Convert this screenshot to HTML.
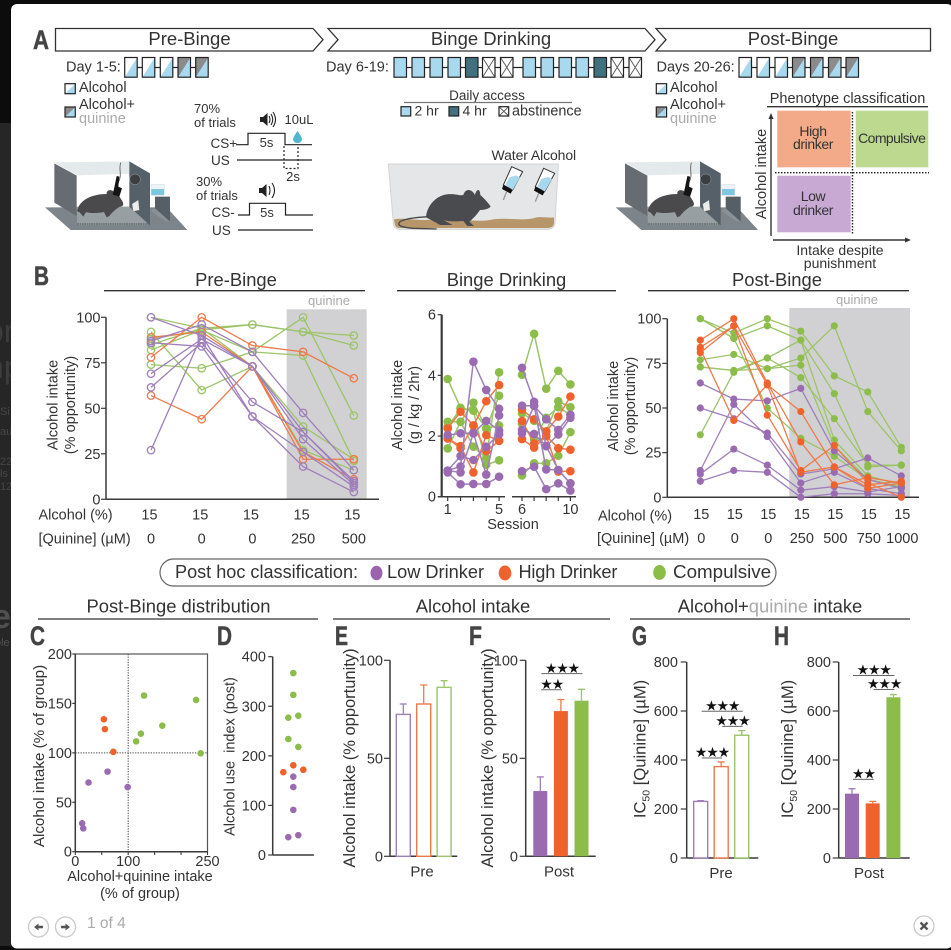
<!DOCTYPE html>
<html lang="en">
<head>
<meta charset="utf-8">
<title>Binge drinking figure</title>
<style>
html,body{margin:0;padding:0;background:#222;}
body{width:951px;height:950px;overflow:hidden;}
svg{display:block;}
text{font-family:"Liberation Sans",sans-serif;fill:#333;font-size:14.5px;}
.ttl{font-size:18.5px;text-anchor:middle;}
.sec{font-size:18.4px;text-anchor:middle;}
.ltr{font-family:"Liberation Sans Narrow","Liberation Sans",sans-serif;font-weight:700;font-size:27px;fill:#444;stroke:#444;stroke-width:.5px;}
.mid{text-anchor:middle;}
.sm{font-size:13px;}
.gr{fill:#aaa;}
.rule{stroke:#333;stroke-width:1.3;}
.tr{fill:none;stroke:#222;stroke-width:1.2;}
</style>
</head>
<body>
<svg id="fig" xmlns="http://www.w3.org/2000/svg" width="951" height="950" viewBox="0 0 951 950">
  <rect x="0" y="0" width="951" height="950" fill="#262626"/>
  <rect x="0" y="0" width="951" height="123" fill="#0c0c0c"/>
  <g style="opacity:.9">
    <text x="-14" y="342" style="font-size:32px;fill:#3f3f3f">or</text>
    <text x="-14" y="378" style="font-size:32px;fill:#3f3f3f">np</text>
    <text x="0" y="415" style="font-size:11px;fill:#4a4a4a">Si</text>
    <text x="0" y="435" style="font-size:11px;fill:#4a4a4a">au</text>
    <text x="0" y="465" style="font-size:11px;fill:#4a4a4a">22</text>
    <text x="0" y="477" style="font-size:11px;fill:#4a4a4a">ls</text>
    <text x="0" y="490" style="font-size:11px;fill:#4a4a4a">12</text>
    <text x="-8" y="628" style="font-size:34px;font-weight:700;fill:#555">e</text>
    <text x="-5" y="646" style="font-size:11px;fill:#555">ole</text>
  </g>
  <rect x="0" y="946" width="951" height="4" fill="#0c0c0c"/>
  <rect x="11" y="4" width="942" height="944.5" rx="6" fill="#ffffff"/>

  <!-- Panel A headers -->
  <text class="ltr" x="33" y="49" textLength="16" lengthAdjust="spacingAndGlyphs">A</text>
  <g fill="#fff" stroke="#333" stroke-width="1.3">
    <polygon points="55.5,28.5 313,28.5 323,39.7 313,51 55.5,51"/>
    <polygon points="328,28.5 645,28.5 655,39.7 645,51 328,51 338,39.7"/>
    <polygon points="656,28.5 930.5,28.5 930.5,51 656,51 666,39.7"/>
  </g>
  <text class="ttl" x="189.5" y="45">Pre-Binge</text>
  <text class="ttl" x="491" y="45">Binge Drinking</text>
  <text class="ttl" x="793" y="45">Post-Binge</text>

  <text x="66" y="71.5">Day 1-5:</text>
  <text x="326" y="71.5">Day 6-19:</text>
  <text x="656.5" y="71.5">Days 20-26:</text>
  <g id="boxes"></g>

  <text x="79" y="92">Alcohol</text>
  <text x="79" y="109">Alcohol+</text>
  <text class="gr" x="79" y="123">quinine</text>
  <text x="670" y="92">Alcohol</text>
  <text x="670" y="109">Alcohol+</text>
  <text class="gr" x="670" y="123">quinine</text>

  <text class="mid" x="487" y="100" style="font-size:13.5px">Daily access</text>
  <line class="rule" x1="404" y1="102.5" x2="572" y2="102.5" style="stroke:#777"/>
  <text x="414.5" y="115.5" style="font-size:14px">2 hr</text>
  <text x="462.5" y="115.5" style="font-size:14px">4 hr</text>
  <text x="512" y="115.5" style="font-size:14.4px">abstinence</text>

  <!-- Trial timing -->
  <g>
    <text class="sm" x="194" y="113">70%</text>
    <text class="sm" x="194" y="127">of trials</text>
    <text class="sm" x="284.5" y="124">10uL</text>
    <text x="210.5" y="148" style="font-size:13.5px">CS+</text>
    <text x="211" y="165" style="font-size:13.5px">US</text>
    <text class="mid sm" x="266.5" y="147">5s</text>
    <text class="mid sm" x="293" y="181">2s</text>
    <text class="sm" x="196" y="186">30%</text>
    <text class="sm" x="196" y="200">of trials</text>
    <text x="211.5" y="217" style="font-size:13.5px">CS-</text>
    <text class="mid sm" x="267" y="217">5s</text>
    <text x="212" y="235" style="font-size:13.5px">US</text>
    <polyline class="tr" points="236,144.7 248,144.7 248,133.3 285,133.3 285,144.7 312,144.7"/>
    <line class="tr" x1="237" y1="160" x2="312" y2="160"/>
    <polyline class="tr" points="284,146 284,168.5 298,168.5 298,146" style="stroke-dasharray:2 2"/>
    <polyline class="tr" points="238,215 249.5,215 249.5,203.3 285.5,203.3 285.5,215 313,215"/>
    <line class="tr" x1="238" y1="230" x2="313" y2="230"/>
    <path d="M297.5,131 C294,136 293,138 293,139.5 A4.6,4.6 0 0 0 302,139.5 C302,138 301,136 297.5,131Z" fill="#4fb6d0"/>
    <g fill="#222">
      <polygon points="260,117 263,117 267.5,113 267.5,126 263,122 260,122"/>
      <polygon points="259,188 262,188 266.5,184 266.5,197 262,193 259,193"/>
    </g>
    <g fill="none" stroke="#222" stroke-width="1.1">
      <path d="M269,116 Q271,119.5 269,123"/><path d="M271,114 Q274.5,119.5 271,125"/><path d="M273,112 Q278,119.5 273,127"/>
      <path d="M269,186 Q271,190.5 269,195"/><path d="M272,183 Q277,190.5 272,198"/>
    </g>
  </g>

  <!-- Operant chamber (defined once, reused) -->
  <defs>
    <g id="chamber">
      <polygon points="135,622 212,690 562,690 500,622" fill="#7d858b"/>
      <polygon points="163,487 388,484 450,520 230,526" fill="#e4eaec"/>
      <polygon points="163,490 230,527 230,648 163,608" fill="#666c71"/>
      <polygon points="230,620 440,620 445,675 232,675" fill="#989fa3"/>
      <polygon points="388,484 450,520 450,676 388,620" fill="#566069"/>
      <circle cx="405" cy="538" r="16" fill="#3c3f42" stroke="#cfcfcf" stroke-width="1"/>
      <polygon points="396,612 415,600 418,630 400,634" fill="#eee" stroke="#888" stroke-width="1"/>
      <polygon points="465,590 510,590 510,665 465,625" fill="#565f66"/>
      <polygon points="465,625 510,665 498,665 452,632" fill="#8b9297"/>
      <rect x="453" y="553" width="40" height="33" rx="2" fill="#eef4f6" stroke="#c6ccd0"/>
      <rect x="454" y="567" width="38" height="18" fill="#7ec7e0"/>
      <path d="M232,630 C240,600 275,582 320,582 C318,572 330,566 340,574 C350,570 355,585 365,600 C372,610 372,620 360,620 C345,628 335,640 328,648 L320,652 L312,636 C290,640 270,640 258,636 L250,650 L238,636 C232,636 230,632 232,630Z" fill="#4a4a4c"/>
      <path d="M362,488 C355,510 368,525 354,550" fill="none" stroke="#555" stroke-width="2.5"/>
      <path d="M350,528 L358,530 L355,560 L366,565 L358,590 L338,584 L343,562Z" fill="#141414"/>
      <line x1="232" y1="672" x2="445" y2="672" stroke="#333" stroke-width="2" stroke-dasharray="5 2"/>
    </g>
  </defs>
  <g transform="scale(.33333)"><use href="#chamber"/></g>
  <g transform="translate(570.7,0) scale(.33333)"><use href="#chamber"/></g>

  <!-- Home cage -->
  <g transform="translate(380,140) scale(.33333)">
    <path d="M25,72 L535,72 L525,250 Q522,268 500,268 L60,268 Q42,268 40,250Z" fill="#e5e6e7" stroke="#d4d4d4" stroke-width="3"/>
    <path d="M42,238 C80,232 110,245 160,238 C220,232 290,250 340,238 C390,232 430,245 470,232 C490,230 510,235 522,232 L522,250 Q520,264 500,264 L60,264 Q45,264 44,250Z" fill="#b7966a"/>
    <path d="M145,230 C110,232 75,235 60,245 C50,255 60,262 100,265 L170,267" fill="none" stroke="#47484a" stroke-width="4"/>
    <path d="M138,232 C140,200 165,168 200,163 C225,160 240,168 250,165 C255,145 275,145 285,165 C288,148 300,142 301,165 C315,178 328,192 332,200 C325,208 310,210 300,210 C290,225 275,240 268,245 L282,258 L262,258 L250,243 C230,245 205,245 190,240 L218,255 L180,255 C165,245 150,238 138,232Z" fill="#4a4b4e"/>
    <g id="bottle">
      <polygon points="395,80 428,95 398,150 370,135" fill="#fff" stroke="#333" stroke-width="3"/>
      <polygon points="408,106 420,112 398,150 376,134 388,112" fill="#a9d8ee"/>
      <polygon points="370,135 398,150 392,161 366,147" fill="#111"/>
      <line x1="380" y1="155" x2="370" y2="180" stroke="#999" stroke-width="4"/>
    </g>
    <use href="#bottle" transform="translate(96,5)"/>
  </g>
  <text x="491.5" y="160" style="font-size:14px;letter-spacing:-.1px">Water Alcohol</text>

  <!-- Phenotype quadrant -->
  <text class="mid" x="847.5" y="103" style="font-size:14.5px">Phenotype classification</text>
  <line class="rule" x1="767" y1="106.7" x2="928" y2="106.7"/>
  <rect x="777.3" y="110.7" width="73.4" height="56.6" fill="#f2aa88"/>
  <rect x="855.7" y="110.7" width="72.6" height="56.6" fill="#bcd98f"/>
  <rect x="777.3" y="175.7" width="73.4" height="56.6" fill="#c8a9d4"/>
  <line x1="852.5" y1="112" x2="852.5" y2="235" stroke="#222" stroke-width="1.4" stroke-dasharray="1.5 1.5"/>
  <line x1="775" y1="172.7" x2="929" y2="172.7" stroke="#222" stroke-width="1.4" stroke-dasharray="1.5 1.5"/>
  <line x1="771" y1="236" x2="771" y2="118" stroke="#333" stroke-width="1.4"/>
  <polygon points="771,113 768.5,119 773.5,119" fill="#333"/>
  <line x1="773" y1="240" x2="906" y2="240" stroke="#333" stroke-width="1.4"/>
  <polygon points="911,240 905,237.5 905,242.5" fill="#333"/>
  <text class="mid" transform="translate(766,174) rotate(-90)">Alcohol intake</text>
  <text class="mid" x="840" y="255" style="font-size:14px">Intake despite</text>
  <text class="mid" x="840" y="268" style="font-size:14px">punishment</text>
  <g style="letter-spacing:-.4px">
    <text class="mid" x="813" y="136" style="font-size:14px;letter-spacing:-.4px">High</text>
    <text class="mid" x="813" y="149" style="font-size:14px;letter-spacing:-.4px">drinker</text>
    <text class="mid" x="891.7" y="143" style="font-size:14px;letter-spacing:-.6px">Compulsive</text>
    <text class="mid" x="813" y="201" style="font-size:14px;letter-spacing:-.4px">Low</text>
    <text class="mid" x="813" y="215" style="font-size:14px;letter-spacing:-.4px">drinker</text>
  </g>

  <!-- Panel B static -->
  <text class="ltr" x="34" y="285" textLength="15" lengthAdjust="spacingAndGlyphs">B</text>
  <text class="sec" x="236" y="286">Pre-Binge</text>
  <text class="sec" x="506.5" y="286">Binge Drinking</text>
  <text class="sec" x="777" y="286">Post-Binge</text>
  <line class="rule" x1="104" y1="290.7" x2="365" y2="290.7"/>
  <line class="rule" x1="397" y1="290.7" x2="616" y2="290.7"/>
  <line class="rule" x1="648" y1="290.7" x2="909" y2="290.7"/>
  <rect x="286.7" y="309.3" width="80" height="190" fill="#d1d1d3"/>
  <rect x="789.3" y="308" width="120.7" height="189.3" fill="#d1d1d3"/>
  <text class="mid sm gr" x="329" y="305">quinine</text>
  <text class="mid sm gr" x="857" y="304">quinine</text>
  <g id="bPre"></g>
  <g id="bBinge"></g>
  <g id="bPost"></g>
  <text x="38.5" y="519.5">Alcohol (%)</text>
  <text x="38.5" y="543.5">[Quinine] (µM)</text>
  <text x="598" y="520.5">Alcohol (%)</text>
  <text x="597" y="543">[Quinine] (µM)</text>
  <text class="mid" transform="translate(57.5,405) rotate(-90)">Alcohol intake</text>
  <text class="mid" transform="translate(75,405) rotate(-90)">(% opportunity)</text>
  <text class="mid" transform="translate(402,405) rotate(-90)">Alcohol intake</text>
  <text class="mid" transform="translate(419,405) rotate(-90)">(g / kg / 2hr)</text>
  <text class="mid" x="513" y="529">Session</text>
  <text class="mid" transform="translate(618,406) rotate(-90)">Alcohol intake</text>
  <text class="mid" transform="translate(635,406) rotate(-90)">(% opportunity)</text>

  <!-- Classification legend -->
  <rect x="160" y="559" width="616" height="27" rx="13.5" fill="#fff" stroke="#666" stroke-width="1.2"/>
  <text x="175" y="578" style="font-size:18.1px">Post hoc classification:</text>
  <ellipse cx="376.5" cy="573" rx="6" ry="7.3" fill="#9b65ad"/>
  <text x="387" y="578" style="font-size:18.2px">Low Drinker</text>
  <ellipse cx="505" cy="573" rx="6.3" ry="7.5" fill="#f0622c"/>
  <text x="518.5" y="578" style="font-size:18.2px;letter-spacing:-.2px">High Drinker</text>
  <ellipse cx="659.5" cy="572.5" rx="6.3" ry="7.5" fill="#8bbd47"/>
  <text x="673" y="578" style="font-size:18.8px">Compulsive</text>

  <!-- Row three titles -->
  <text class="sec" x="178.5" y="612.5">Post-Binge distribution</text>
  <text class="sec" x="473" y="612.5">Alcohol intake</text>
  <text class="sec" x="770" y="612.5">Alcohol+<tspan class="gr">quinine</tspan> intake</text>
  <line class="rule" x1="38" y1="619" x2="318" y2="619"/>
  <line class="rule" x1="333" y1="619" x2="610" y2="619"/>
  <line class="rule" x1="630" y1="619" x2="910" y2="619"/>
  <text class="ltr" x="30" y="645" textLength="15" lengthAdjust="spacingAndGlyphs">C</text>
  <text class="ltr" x="217" y="645" textLength="15" lengthAdjust="spacingAndGlyphs">D</text>
  <text class="ltr" x="335" y="645" textLength="13" lengthAdjust="spacingAndGlyphs">E</text>
  <text class="ltr" x="469" y="645" textLength="13" lengthAdjust="spacingAndGlyphs">F</text>
  <text class="ltr" x="632" y="645" textLength="15" lengthAdjust="spacingAndGlyphs">G</text>
  <text class="ltr" x="774" y="645" textLength="15" lengthAdjust="spacingAndGlyphs">H</text>

  <g id="cChart"></g>
  <g id="dChart"></g>
  <g id="barCharts"></g>

  <text class="mid" transform="translate(44,756) rotate(-90)" style="font-size:15.2px">Alcohol intake (% of group)</text>
  <text class="mid" x="140" y="881">Alcohol+quinine intake</text>
  <text class="mid" x="140" y="898">(% of group)</text>
  <text class="mid" transform="translate(234.5,756.5) rotate(-90)">Alcohol use&#160; index (post)</text>

  <!-- Viewer controls -->
  <g>
    <circle cx="38.5" cy="927" r="10" fill="#fff" stroke="#c8c8c8" stroke-width="1.3"/>
    <polygon points="34,927 38.5,923.5 38.5,925.7 43,925.7 43,928.3 38.5,928.3 38.5,930.5" fill="#555"/>
  </g>
  <g>
    <circle cx="65.5" cy="927" r="10" fill="#fff" stroke="#c8c8c8" stroke-width="1.3"/>
    <polygon points="70,927 65.5,923.5 65.5,925.7 61,925.7 61,928.3 65.5,928.3 65.5,930.5" fill="#555"/>
  </g>
  <text x="87" y="928" style="font-size:15.5px;fill:#aaa">1 of 4</text>
  <g>
    <circle cx="924" cy="926" r="10" fill="#fff" stroke="#c8c8c8" stroke-width="1.3"/>
    <path d="M920.5,922.5 L927.5,929.5 M927.5,922.5 L920.5,929.5" stroke="#555" stroke-width="2.3"/>
  </g>
</svg>

<script>
// ---------- chart data ----------
const doseLabelsPre = ['0','0','0','250','500'];
const doseLabelsPost = ['0','0','0','250','500','750','1000'];
const alcoholPct = '15';
const intakeTicks = [0,25,50,75,100];

const preLow = [
  [100,90,73,37,9],
  [87,96,81,47.5,16],
  [86,84,45.5,18,4],
  [69,88,73,33,8],
  [61.5,86,53.5,37,10],
  [27,90,45.5,26,7]
];
const preHigh = [
  [78,100,84.5,81,66.5],
  [89,92,73,22,22],
  [57,44,73,26,11]
];
const preComp = [
  [100,94,96,92,90],
  [82,93,96,92,84.5],
  [74,72,81,100,46],
  [92,60,73,40,22],
  [88,93,81,79,21],
  [85,94,73,27,16]
];

const sessionTicksA = ['1','','','','5'];
const sessionTicksB = ['6','','','','10'];
const bingeTicks = [0,2,4,6];
const bingeLow = [
  [2.03,2.09,2.09,2.5,2.18, 3.0,3.0,2.55,2.2,2.7],
  [0.86,1.34,1.21,1.65,2.06, 2.2,2.07,1.67,0.88,0.44],
  [0.86,1.0,4.45,3.52,2.9, 4.25,3.13,1.67,2.05,2.6],
  [0.8,0.41,0.42,0.42,0.66, 0.84,0.99,0.25,0.44,0.2],
  [0.86,0.8,2.09,0.73,2.68, 2.09,3.0,0.9,0.88,0.44]
];
const bingeHigh = [
  [2.25,2.8,2.35,3.15,3.68, 2.87,2.55,2.15,2.64,3.3],
  [1.92,1.67,0.8,2.03,1.84, 2.5,1.75,2.0,1.6,1.55],
  [1.92,1.6,2.35,1.5,1.84, 1.9,1.62,2.0,0.83,0.84]
];
const bingeComp = [
  [3.88,2.93,2.84,1.05,1.2, 4.02,5.37,3.56,4.15,3.7],
  [2.47,2.47,3.1,2.25,3.33, 2.75,2.5,2.15,3.15,2.95],
  [1.59,2.47,1.65,1.27,4.1, 2.4,1.9,2.6,2.95,2.7],
  [2.3,2.9,2.84,2.25,2.35, 0.7,1.1,1.1,1.35,2.13]
];

const postLow = [
  [64,55,54,61,26,10,5],
  [50,44,36,13,16,22,12],
  [15,52,34,8,14,5,2],
  [13,27,18,4,6,3,6],
  [9,15,14,0,2,2,1]
];
const postHigh = [
  [88,100,64,31,7,11,8],
  [84,96,46,15,29,8,0],
  [83,43,63,48,17,5,8],
  [81,96,63,14,17,7,9]
];
const postComp = [
  [100,92,100,93,68,59,28],
  [100,89,96,88,32,12,7],
  [77,80,72,78,96,48,26],
  [73,71,78,88,58,17,18],
  [35,70,78,67,44,18,18],
  [73,71,72,74,29,10,6],
  [100,89,50,33,23,10,5]
];

const scatterLowX = [61,25,99,13,15];
const scatterLowY = [81,70,65.4,28.7,23.6];
const scatterHighX = [54,56,72];
const scatterHighY = [134,124,101];
const scatterCompX = [130,228.5,164.5,124,115,237];
const scatterCompY = [158,153.5,127.5,119.4,111.6,99.5];
const scatterXTicks = [0,50,100,150,200,250];
const scatterXLabels = ['0','','100','','','250'];
const scatterYTicks = [0,50,100,150,200];

const useIndexLow = [158,137,91,36,40];
const useIndexLowSlot = [0,0,0,-1,1];
const useIndexHigh = [181,167,172];
const useIndexHighSlot = [0,-2,2];
const useIndexComp = [367,323,277,281,234,218];
const useIndexCompSlot = [0,0,-1,1,-1,1];
const useIndexTicks = [0,100,200,300,400];

const pctBarTicks = [0,50,100];
const icBarTicks = [0,200,400,600,800];
const ePre = [72.4,77.7,86.2];
const ePreErr = [77.7,87.4,89.6];
const fPost = [33.3,74.1,79.4];
const fPostErr = [40.5,80,85.2];
const gPre = [231,373,501];
const gPreErr = [234,392,520];
const hPost = [262.6,223,656];
const hPostErr = [283,231,667];
const fSig = [[0,2,93.2,'★★★'],[0,1,85,'★★']];
const gSig = [[0,2,599,'★★★'],[1,2,537,'★★★'],[0,1,408,'★★★']];
const hSig = [[0,2,745,'★★★'],[1,2,688,'★★★'],[0,1,321,'★★']];

// ---------- helpers ----------
const NS = 'http://www.w3.org/2000/svg';
const PURPLE='#9b6bb2', ORANGE='#f0622c', GREEN='#8cbc49';
const PURPLE_L='#9f7fbb', ORANGE_L='#ee7a4c', GREEN_L='#9cc468';
const INK='#3a3a3a';

function mk(parent, tag, attrs, txt){
  const el = document.createElementNS(NS, tag);
  for (const k in attrs) el.setAttribute(k, attrs[k]);
  if (txt !== undefined) el.textContent = txt;
  parent.appendChild(el);
  return el;
}
function linear(d0,d1,r0,r1){ return v => r0 + (v-d0)*(r1-r0)/(d1-d0); }

function yAxis(parent, x, y, ticks, labelEnd, tickLen, top, bottom, width){
  const axis = mk(parent,'line',{x1:x,x2:x,y1:top,y2:bottom,stroke:INK,'stroke-width':width||1.5});
  
  
  ticks.forEach(t=>{
    const tick = mk(parent,'line',{x1:x-tickLen,x2:x,y1:y(t),y2:y(t),stroke:INK,'stroke-width':1.2});
    
    
    const label = mk(parent,'text',{x:labelEnd,y:y(t)+5,'text-anchor':'end'},String(t));
    
    
  });
}
function series(parent, rows, x, y, color, lineColor, r, open, width, name){
  rows.forEach(row=>{
    const pts = row.map((v,i)=>x(i)+','+y(v)).join(' ');
    const line = mk(parent,'polyline',{points:pts,fill:'none',stroke:lineColor,'stroke-width':width});
    
    
    row.forEach((v,i)=>{
      const dot = mk(parent,'circle',{cx:x(i),cy:y(v),r:r,fill:open?'none':color,stroke:open?lineColor:'none','stroke-width':open?1.3:0});
      
      
    });
  });
}

// ---------- schedule boxes ----------
const boxes = document.getElementById('boxes');
function scheduleBox(x,y,w,h,kind){
  const g = mk(boxes,'g',{});
  
  
  const LB='#a8d9ef', DK='#41707f', GY='#8b8b8b';
  if(kind==='l') mk(g,'rect',{x,y,width:w,height:h,fill:LB});
  if(kind==='d') mk(g,'rect',{x,y,width:w,height:h,fill:DK});
  if(kind==='a'||kind==='q'){
    mk(g,'rect',{x,y,width:w,height:h,fill:kind==='a'?'#fff':GY});
    mk(g,'polygon',{points:`${x},${y+h} ${x+w},${y} ${x+w},${y+h}`,fill:LB});
  }
  if(kind==='x'){
    mk(g,'rect',{x,y,width:w,height:h,fill:'#fff'});
    mk(g,'path',{d:`M${x},${y} L${x+w},${y+h} M${x+w},${y} L${x},${y+h}`,stroke:'#555','stroke-width':0.9,fill:'none'});
  }
  mk(g,'rect',{x,y,width:w,height:h,fill:'none',stroke:'#222','stroke-width':1.2});
}
function scheduleRow(xs,kinds){
  const link = mk(boxes,'line',{x1:xs[0],x2:xs[xs.length-1],y1:67.5,y2:67.5,stroke:'#222','stroke-width':1.2});
  
  
  xs.forEach((x,i)=>scheduleBox(x,57.5,12.5,19.7,kinds[i]));
}
scheduleRow([124.7,142.3,160.3,178,195.7],['a','a','a','q','q']);
scheduleRow([394,412,430,448,465.5,482.5,500.5,523,541,559,576,594,611,629],['l','l','l','l','d','x','x','l','l','l','l','d','x','x']);
scheduleRow([739,757,775,792.5,810.5,828.5,846],['a','a','a','q','q','q','q']);
scheduleBox(65,83.7,10.3,10,'a');
scheduleBox(65,107,10.3,10,'q');
scheduleBox(656.3,83.7,10.3,10,'a');
scheduleBox(656.3,107,10.3,10,'q');
scheduleBox(401,106.7,9.7,9.3,'l');
scheduleBox(449,106.7,9.7,9.3,'d');
scheduleBox(499,106.7,9.7,9.3,'x');

// ---------- pre-binge ----------
(function(){
  const g = document.getElementById('bPre');
  const y = linear(0,100,499.3,317.3);
  const x = i => 151 + i*50.7;
  yAxis(g,106,y,intakeTicks,100.5,5,317.3,499.3);
  const base = mk(g,'line',{x1:106,x2:379,y1:499.3,y2:499.3,stroke:INK,'stroke-width':1.5});
  
  
  series(g,preComp,x,y,GREEN,GREEN_L,3.7,true,1.3,'pre-compulsive');
  series(g,preHigh,x,y,ORANGE,ORANGE_L,3.7,true,1.3,'pre-high');
  series(g,preLow,x,y,PURPLE,PURPLE_L,3.7,true,1.3,'pre-low');
  doseLabelsPre.forEach((d,i)=>{
    const a = mk(g,'text',{x:x(i)-1.5,y:519.5,'text-anchor':'middle'},alcoholPct);
    
    
    const q = mk(g,'text',{x:x(i),y:543.5,'text-anchor':'middle'},d);
    
    
  });
})();

// ---------- binge sessions ----------
(function(){
  const g = document.getElementById('bBinge');
  const y = linear(0,6,496.7,314.7);
  const xa = i => 447.7 + i*12.85;
  const xb = i => 522 + i*12.1;
  yAxis(g,441.7,y,bingeTicks,436,4,314.7,496.7,2.2);
  [[438,505,xa,sessionTicksA],[512,576,xb,sessionTicksB]].forEach(([a,b,fx,labels])=>{
    const base = mk(g,'line',{x1:a,x2:b,y1:496.7,y2:496.7,stroke:INK,'stroke-width':1.5});
    
    
    labels.forEach((l,i)=>{
      const t = mk(g,'line',{x1:fx(i),x2:fx(i),y1:496.7,y2:501,stroke:INK,'stroke-width':1.2});
      
      
      if(l){
        const s = mk(g,'text',{x:fx(i),y:514,'text-anchor':'middle'},l);
        
        
      }
    });
  });
  function split(rows,from,to){ return rows.map(r=>r.slice(from,to)); }
  [[bingeComp,GREEN,GREEN_L,'binge-compulsive'],[bingeHigh,ORANGE,ORANGE_L,'binge-high'],[bingeLow,PURPLE,PURPLE_L,'binge-low']].forEach(([rows,c,l,n])=>{
    series(g,split(rows,0,5),xa,y,c,l,4.3,false,1.5,n);
    series(g,split(rows,5,10),xb,y,c,l,4.3,false,1.5,n);
  });
})();

// ---------- post-binge ----------
(function(){
  const g = document.getElementById('bPost');
  const y = linear(0,100,497.3,318.7);
  const x = i => 700.3 + i*33.5;
  yAxis(g,667.3,y,intakeTicks,661.5,5,318.7,497.3);
  const base = mk(g,'line',{x1:667.3,x2:919,y1:497.3,y2:497.3,stroke:INK,'stroke-width':1.5});
  
  
  series(g,postComp,x,y,GREEN,GREEN_L,3.6,false,1.3,'post-compulsive');
  series(g,postLow,x,y,PURPLE,PURPLE_L,3.6,false,1.3,'post-low');
  series(g,postHigh,x,y,ORANGE,ORANGE_L,3.6,false,1.3,'post-high');
  doseLabelsPost.forEach((d,i)=>{
    const a = mk(g,'text',{x:x(i)+1,y:519,'text-anchor':'middle'},alcoholPct);
    
    
    const q = mk(g,'text',{x:x(i)+1,y:543,'text-anchor':'middle'},d);
    
    
  });
})();

// ---------- scatter C ----------
(function(){
  const g = document.getElementById('cChart');
  const x = linear(0,250,75.3,207.5);
  const y = linear(0,200,851.7,654);
  const frame = mk(g,'rect',{x:75.3,y:654,width:132.2,height:197.7,fill:'none',stroke:'#555','stroke-width':1.2});
  
  
  yAxis(g,75.3,y,scatterYTicks,72,3,654,851.7);
  const base = mk(g,'line',{x1:75.3,x2:207.5,y1:851.7,y2:851.7,stroke:INK,'stroke-width':1.5});
  
  
  scatterXTicks.forEach((t,i)=>{
    const tick = mk(g,'line',{x1:x(t),x2:x(t),y1:851.7,y2:855,stroke:INK,'stroke-width':1.1});
    
    
    if(scatterXLabels[i]){
      const lab = mk(g,'text',{x:x(t),y:866,'text-anchor':'middle'},scatterXLabels[i]);
      
      
    }
  });
  const v = mk(g,'line',{x1:x(100),x2:x(100),y1:654,y2:851.7,stroke:'#444','stroke-width':1,'stroke-dasharray':'1.3 1.3'});
  
  
  const h = mk(g,'line',{x1:75.3,x2:207.5,y1:y(100),y2:y(100),stroke:'#444','stroke-width':1,'stroke-dasharray':'1.3 1.3'});
  
  
  [[scatterCompX,scatterCompY,GREEN,'compulsive'],[scatterHighX,scatterHighY,ORANGE,'high'],[scatterLowX,scatterLowY,PURPLE,'low']].forEach(([xs,ys,c,n])=>{
    xs.forEach((xv,i)=>{
      const d = mk(g,'circle',{cx:x(xv),cy:y(ys[i]),r:3.3,fill:c});
      
      
    });
  });
})();

// ---------- swarm D ----------
(function(){
  const g = document.getElementById('dChart');
  const y = linear(0,400,855,656.7);
  const x = s => 293.3 + s*5;
  yAxis(g,272.7,y,useIndexTicks,266,4.5,656.7,855);
  const base = mk(g,'line',{x1:272.7,x2:314,y1:855,y2:855,stroke:INK,'stroke-width':1.5});
  
  
  [[useIndexComp,useIndexCompSlot,GREEN,'compulsive'],[useIndexHigh,useIndexHighSlot,ORANGE,'high'],[useIndexLow,useIndexLowSlot,PURPLE,'low']].forEach(([vals,slots,c,n])=>{
    vals.forEach((val,i)=>{
      const d = mk(g,'circle',{cx:x(slots[i]),cy:y(val),r:3.3,fill:c});
      
      
    });
  });
})();

// ---------- bars E-H ----------
function barChart(cfg){
  const g = document.getElementById('barCharts');
  const y = linear(0,cfg.max,cfg.y0,cfg.yTop);
  const x = i => cfg.x0 + i*cfg.step;
  const w = 14;
  const colors=[PURPLE,ORANGE,GREEN], lights=[PURPLE_L,ORANGE_L,GREEN_L];
  yAxis(g,cfg.axis,y,cfg.ticks,cfg.labelEnd,6,cfg.yTop,cfg.y0);
  const base = mk(g,'line',{x1:cfg.axis,x2:cfg.xEnd,y1:cfg.y0,y2:cfg.y0,stroke:INK,'stroke-width':1.5});
  
  
  cfg.values.forEach((v,i)=>{
    const c = cfg.open?lights[i]:colors[i];
    const errLine = mk(g,'path',{d:`M${x(i)},${y(v)} L${x(i)},${y(cfg.errs[i])} M${x(i)-3.5},${y(cfg.errs[i])} L${x(i)+3.5},${y(cfg.errs[i])}`,stroke:lights[i],'stroke-width':1.3,fill:'none'});
    
    
    const bar = mk(g,'rect',{x:x(i)-w/2,y:y(v),width:w,height:cfg.y0-y(v),fill:cfg.open?'#fff':c,stroke:cfg.open?c:'none','stroke-width':1.4});
    
    
  });
  const lab = mk(g,'text',{x:cfg.labelX,y:cfg.y0+20,'text-anchor':'middle',style:'font-size:15px'},cfg.label);
  
  
  (cfg.sig||[]).forEach(([a,b,val,stars])=>{
    const line = mk(g,'line',{x1:x(a)+1,x2:x(b)+1,y1:y(val),y2:y(val),stroke:'#666','stroke-width':1});
    
    
    const s = mk(g,'text',{x:(x(a)+x(b))/2+1,y:y(val)-0.8,'text-anchor':'middle',style:'font-family:"DejaVu Sans",sans-serif;font-size:14px;letter-spacing:-1.2px;fill:#111'},stars);
    
    
  });
  const title = mk(g,'text',{transform:`translate(${cfg.titleX},${cfg.titleY}) rotate(-90)`,'text-anchor':'middle',style:'font-size:'+cfg.titleSize+'px'});
  
  
  if(cfg.ic){
    mk(title,'tspan',{},'IC');
    mk(title,'tspan',{dy:4,style:'font-size:10.5px'},'50');
    mk(title,'tspan',{dy:-4},' [Quinine] (µM)');
  } else {
    title.textContent = 'Alcohol intake (% opportunity)';
  }
}
barChart({name:'e-pre',values:ePre,errs:ePreErr,open:true,max:100,ticks:pctBarTicks,y0:856.3,yTop:660.3,axis:390,xEnd:457.3,labelEnd:383,x0:403.3,step:20.4,label:'Pre',labelX:422,titleX:355,titleY:758,titleSize:16.5});
barChart({name:'f-post',values:fPost,errs:fPostErr,open:false,max:100,ticks:pctBarTicks,y0:856.3,yTop:660.3,axis:525.7,xEnd:595.7,labelEnd:518,x0:540.3,step:20.6,label:'Post',labelX:559,titleX:493,titleY:758,titleSize:16.5,sig:fSig});
barChart({name:'g-pre',values:gPre,errs:gPreErr,open:true,max:800,ticks:icBarTicks,y0:858,yTop:662,axis:686.7,xEnd:758.3,labelEnd:678,x0:700.7,step:20.5,label:'Pre',labelX:721,titleX:645.5,titleY:749,titleSize:16.6,ic:true,sig:gSig});
barChart({name:'h-post',values:hPost,errs:hPostErr,open:false,max:800,ticks:icBarTicks,y0:858,yTop:662,axis:838.7,xEnd:909.7,labelEnd:831,x0:852,step:20.7,label:'Post',labelX:869,titleX:793,titleY:749,titleSize:16.6,ic:true,sig:hSig});
</script>
</body>
</html>
